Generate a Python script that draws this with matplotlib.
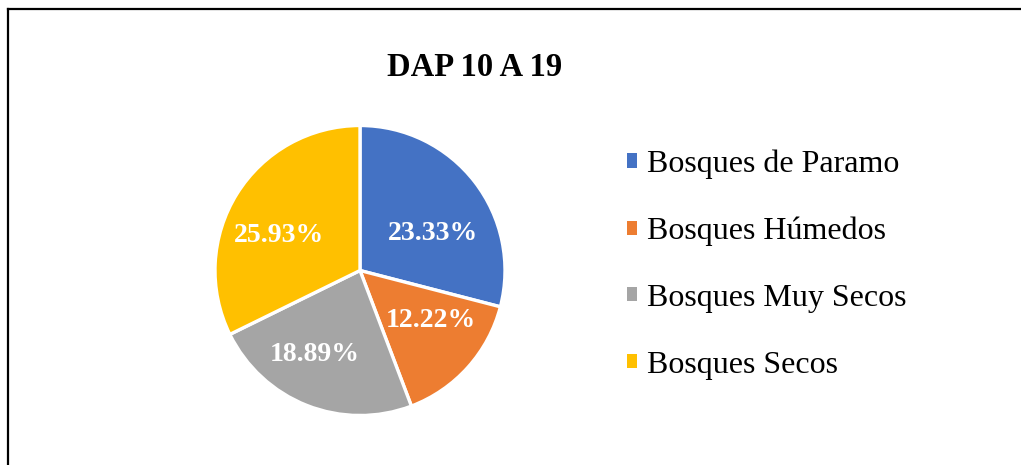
import matplotlib
matplotlib.use("Agg")
import matplotlib.pyplot as plt
from matplotlib.patches import Rectangle
from matplotlib.lines import Line2D
import math

categories = ["Bosques de Paramo", "Bosques Húmedos", "Bosques Muy Secos", "Bosques Secos"]
values = [23.33, 12.22, 18.89, 25.93]
colors = ["#4472C4", "#ED7D31", "#A5A5A5", "#FFC000"]
title = "DAP 10 A 19"

W, H = 1021, 465
fig = plt.figure(figsize=(W / 100, H / 100), dpi=100)
plt.rcParams['font.family'] = ['Liberation Serif', 'DejaVu Serif']

# frame lines (left and top)
fig.add_artist(Line2D([7.5 / W, 7.5 / W], [0, 1 - 9 / H], color="black", lw=1.6, transform=fig.transFigure))
fig.add_artist(Line2D([7.5 / W, 1], [1 - 9 / H, 1 - 9 / H], color="black", lw=1.6, transform=fig.transFigure))

cx, cy, r = 360, 270.5, 145
ax = fig.add_axes([(cx - r) / W, (H - cy - r) / H, 2 * r / W, 2 * r / H])
wedges, _ = ax.pie(values, colors=colors, startangle=90, counterclock=False,
                   wedgeprops=dict(edgecolor="white", linewidth=2.4), radius=1)
ax.set_xlim(-1, 1)
ax.set_ylim(-1, 1)
ax.set_aspect("equal")
ax.axis("off")

# label positions (fraction of radius, angle deg)
label_pos = [(0.565, 27), (0.60, -35), (0.66, -118), (0.61, 157)]
for v, (d, a) in zip(values, label_pos):
    ax.text(d * math.cos(math.radians(a)), d * math.sin(math.radians(a)), f"{v:.2f}%",
            ha="center", va="center", color="white", fontsize=20, fontweight="bold")

fig.text(475 / W, 1 - 68 / H, title, ha="center", va="center", fontsize=23.5, fontweight="bold")

handles = [Rectangle((0, 0), 1, 1, facecolor=c, edgecolor="none") for c in colors]
leg = fig.legend(handles, categories, loc="center left", bbox_to_anchor=(627 / W, 1 - 264.5 / H),
                 frameon=False, fontsize=23, handlelength=0.31, handleheight=0.31,
                 handletextpad=0.31, labelspacing=1.18, borderaxespad=0, borderpad=0)

fig.savefig("out.png", dpi=100, facecolor="white")
